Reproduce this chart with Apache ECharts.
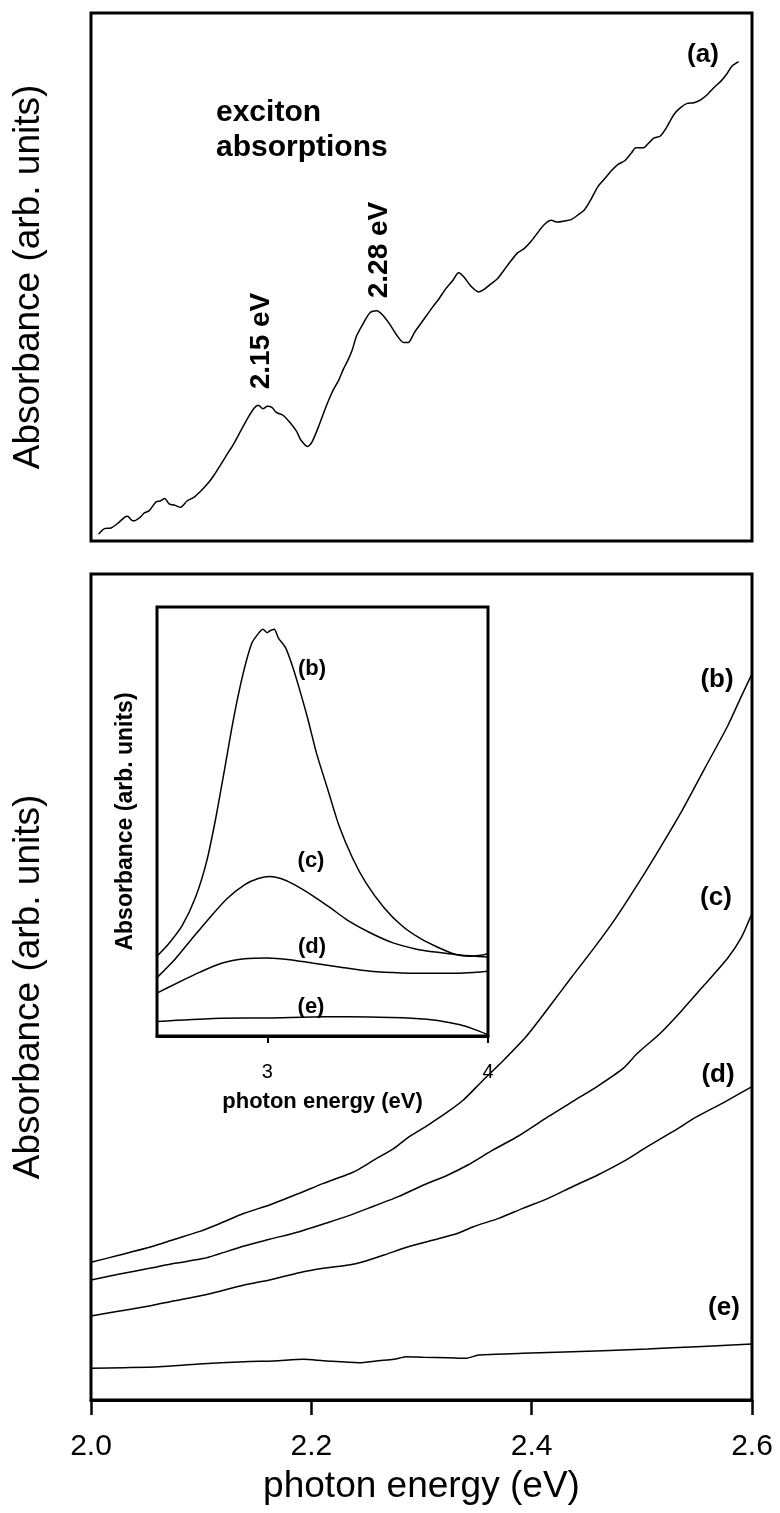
<!DOCTYPE html>
<html><head><meta charset="utf-8">
<script src="https://cdn.jsdelivr.net/npm/echarts@6/dist/echarts.min.js"></script>
<style>html,body{margin:0;padding:0;background:#fff}#c{width:780px;height:1513px}</style>
</head><body><div id="c"></div>
<script>
const FONT = '"Liberation Sans", Arial, Helvetica, sans-serif';

// ---- top panel (a) ----
const energyA = [2.0069,2.0122,2.0182,2.0243,2.0304,2.0332,2.0365,2.0393,2.0446,2.0486,
 2.0527,2.0588,2.0628,2.0669,2.0709,2.0770,2.0811,2.0872,2.0932,2.0993,
 2.1054,2.1115,2.1176,2.1236,2.1297,2.1358,2.1419,2.1480,2.1520,2.1561,
 2.1601,2.1642,2.1682,2.1743,2.1804,2.1865,2.1905,2.1966,2.2007,2.2068,
 2.2128,2.2189,2.2250,2.2291,2.2331,2.2372,2.2412,2.2473,2.2534,2.2595,
 2.2655,2.2716,2.2777,2.2838,2.2878,2.2939,2.3020,2.3101,2.3162,2.3223,
 2.3284,2.3336,2.3385,2.3446,2.3519,2.3568,2.3628,2.3689,2.3750,2.3811,
 2.3872,2.3932,2.3993,2.4054,2.4115,2.4176,2.4236,2.4297,2.4358,2.4419,
 2.4480,2.4540,2.4601,2.4662,2.4723,2.4784,2.4845,2.4905,2.4946,2.5015,
 2.5068,2.5108,2.5169,2.5230,2.5290,2.5351,2.5412,2.5473,2.5534,2.5595,
 2.5655,2.5716,2.5769,2.5817,2.5878];
const absA = [1.33,2.34,2.47,3.35,4.49,4.69,4.02,3.82,4.49,5.36,
 5.70,7.37,7.58,8.05,7.04,6.70,6.37,7.58,8.25,9.39,
 10.73,12.41,14.42,16.44,18.45,20.80,23.15,25.16,25.70,25.03,
 25.50,25.30,24.36,23.82,22.48,20.80,19.12,17.91,18.78,21.80,
 25.16,28.18,30.53,32.55,34.22,36.24,38.92,41.27,43.28,43.62,
 42.61,40.93,38.92,37.58,37.58,39.59,41.94,44.29,45.97,47.85,
 49.33,50.80,50.00,48.32,47.18,47.65,48.65,49.66,51.34,53.02,
 54.56,55.37,56.71,58.39,59.93,60.73,60.40,60.60,60.87,61.74,
 62.75,64.76,67.11,68.59,70.13,71.34,72.01,73.49,74.49,74.49,
 75.50,76.31,76.71,78.52,80.74,82.08,82.88,83.02,83.56,84.56,
 85.90,87.05,88.39,89.93,90.80];

// ---- bottom panel main curves ----
const energyB = [2.0,2.026,2.053,2.076,2.098,2.116,2.139,2.162,2.189,2.211,2.234,2.243,2.257,2.275,2.288,2.306,2.324,2.338,2.355,2.375,2.395,2.416,2.436,2.456,2.476,2.497,2.517,2.537,2.557,2.578,2.590,2.600];
const absB = [16.67,17.55,18.49,19.46,20.38,21.31,22.60,23.61,25.02,26.23,27.36,27.93,29.06,30.47,31.80,33.29,34.90,36.32,38.6,41.2,44.0,47.6,51.15,54.61,58.28,62.60,66.94,71.48,76.44,81.63,85.10,87.91];
const energyC = [2.0,2.026,2.053,2.076,2.103,2.116,2.139,2.162,2.189,2.211,2.234,2.257,2.279,2.302,2.324,2.342,2.365,2.388,2.415,2.437,2.460,2.483,2.496,2.517,2.537,2.557,2.578,2.590,2.600];
const absC = [14.53,15.25,15.94,16.55,17.15,17.68,18.64,19.45,20.38,21.31,22.32,23.49,24.62,26.03,27.24,28.45,30.27,31.96,34.30,36.12,38.01,40.15,41.97,44.44,47.26,50.29,53.52,55.91,58.93];
const energyD = [2.0,2.026,2.053,2.076,2.107,2.139,2.162,2.189,2.211,2.234,2.247,2.266,2.288,2.311,2.333,2.347,2.370,2.392,2.415,2.437,2.460,2.483,2.505,2.528,2.550,2.573,2.600];
const absD = [10.17,10.77,11.38,12.02,12.83,13.92,14.53,15.41,15.94,16.34,16.74,17.55,18.56,19.37,20.18,20.98,21.99,23.2,24.41,25.82,27.24,28.85,30.67,32.48,34.3,35.92,37.93];
const energyE = [2.0,2.030,2.062,2.098,2.139,2.166,2.193,2.211,2.243,2.261,2.275,2.286,2.302,2.324,2.340,2.352,2.392,2.437,2.505,2.550,2.600];
const absE = [3.83,3.91,4.03,4.36,4.64,4.72,4.92,4.76,4.52,4.76,4.92,5.25,5.17,5.13,5.04,5.45,5.65,5.85,6.17,6.46,6.78];

// ---- inset curves ----
const insetEnergyB = [2.5,2.553,2.614,2.675,2.725,2.766,2.807,2.847,2.888,2.929,2.959,2.980,3.000,3.010,3.031,3.051,3.082,3.112,3.142,3.183,3.224,3.275,3.325,3.386,3.447,3.529,3.610,3.691,3.772,3.854,3.915,3.976,4.0];
const insetAbsB = [18.6,21.5,25.7,32.4,40.7,50.7,62.4,74.0,84.0,91.5,93.8,94.8,94.0,94.4,94.8,92.7,90.6,86.5,81.5,74.0,65.7,57.3,49.0,41.5,35.7,29.9,25.7,22.8,20.7,19.0,18.6,18.9,19.2];
const insetEnergyC = [2.5,2.573,2.654,2.736,2.817,2.898,2.959,3.010,3.061,3.122,3.203,3.285,3.366,3.468,3.570,3.671,3.772,3.874,4.0];
const insetAbsC = [13.6,17.4,22.4,27.4,32.0,35.3,36.7,37.2,36.7,35.3,32.8,29.9,26.9,24.0,21.7,20.3,19.5,18.9,18.4];
const insetEnergyD = [2.5,2.593,2.695,2.796,2.898,3.0,3.102,3.203,3.325,3.468,3.610,3.772,3.894,4.0];
const insetAbsD = [10.0,12.4,14.9,17.0,18.0,18.2,17.8,17.0,16.1,15.1,14.7,14.6,14.7,15.1];
const insetEnergyE = [2.5,2.756,3.0,3.264,3.468,3.671,3.772,3.874,3.935,4.0];
const insetAbsE = [3.4,4.1,4.2,4.5,4.4,4.1,3.6,2.6,1.6,0.3];

// ---- tick labels ----
const mainTicks = [2.0, 2.2, 2.4, 2.6];
const insetTicks = [3, 4];

function pairs(xs, ys) { return xs.map((x, i) => [x, ys[i]]); }

const chart = echarts.init(document.getElementById('c'));
const ls = { color: '#000', width: 1.5 };
function line(name, xi, xs, ys) {
  return { name, type: 'line', xAxisIndex: xi, yAxisIndex: xi, data: pairs(xs, ys),
    showSymbol: false, symbol: 'none', smooth: 0.25, lineStyle: ls, z: 3, silent: true };
}
const hiddenY = (gi, name, fs, bold, gap) => ({
  gridIndex: gi, type: 'value', min: 0, max: 100,
  axisLine: { show: false }, axisTick: { show: false }, axisLabel: { show: false }, splitLine: { show: false },
  name, nameLocation: 'middle', nameGap: gap,
  nameTextStyle: { fontSize: fs, fontWeight: bold ? 'bold' : 'normal', color: '#000', fontFamily: FONT }
});
function txt(x, y, s, size, rot, align) {
  return { type: 'text', x, y, rotation: rot || 0, z: 10,
    style: { text: s, fontSize: size, fontWeight: 'bold', fontFamily: FONT, fill: '#000',
      align: align || 'center', verticalAlign: 'middle' } };
}

const option = {
  animation: false,
  backgroundColor: '#fff',
  grid: [
    { left: 91, top: 13, width: 661, height: 528, show: true, borderColor: '#000', borderWidth: 3 },
    { left: 91, top: 574, width: 661, height: 826, show: true, borderColor: '#000', borderWidth: 3 },
    { left: 157, top: 607, width: 331, height: 429, show: true, borderColor: '#000', borderWidth: 3 }
  ],
  xAxis: [
    { gridIndex: 0, type: 'value', min: 2.0, max: 2.6, axisLine: { show: false }, axisTick: { show: false },
      axisLabel: { show: false }, splitLine: { show: false } },
    { gridIndex: 1, type: 'value', min: 2.0, max: 2.6, interval: 0.2,
      axisLine: { show: true, lineStyle: { color: '#000', width: 3 } },
      axisTick: { show: true, inside: false, length: 15, lineStyle: { color: '#000', width: 2.5 } },
      axisLabel: { show: true, fontSize: 30, color: '#000', fontFamily: FONT, margin: 32,
        showMinLabel: true, showMaxLabel: true,
        formatter: v => { const m = mainTicks.find(t => Math.abs(t - v) < 1e-6); return m === undefined ? '' : m.toFixed(1); } },
      splitLine: { show: false },
      name: 'photon energy (eV)', nameLocation: 'middle', nameGap: 68,
      nameTextStyle: { fontSize: 37, color: '#000', fontFamily: FONT } },
    { gridIndex: 2, type: 'value', min: 2.5, max: 4.0, interval: 0.5,
      axisLine: { show: true, lineStyle: { color: '#000', width: 3 } },
      axisTick: { show: true, inside: false, length: 7, customValues: insetTicks, lineStyle: { color: '#000', width: 2 } },
      axisLabel: { show: true, fontSize: 20, color: '#000', fontFamily: FONT, margin: 26, customValues: insetTicks,
        formatter: v => (insetTicks.some(t => Math.abs(t - v) < 1e-6) ? String(Math.round(v)) : '') },
      splitLine: { show: false },
      name: 'photon energy (eV)', nameLocation: 'middle', nameGap: 55,
      nameTextStyle: { fontSize: 22, fontWeight: 'bold', color: '#000', fontFamily: FONT } }
  ],
  yAxis: [
    hiddenY(0, 'Absorbance (arb. units)', 37, false, 44),
    hiddenY(1, 'Absorbance (arb. units)', 37, false, 44),
    hiddenY(2, 'Absorbance (arb. units)', 23, true, 20)
  ],
  series: [
    line('(a)', 0, energyA, absA),
    line('(b)', 1, energyB, absB),
    line('(c)', 1, energyC, absC),
    line('(d)', 1, energyD, absD),
    line('(e)', 1, energyE, absE),
    line('inset (b)', 2, insetEnergyB, insetAbsB),
    line('inset (c)', 2, insetEnergyC, insetAbsC),
    line('inset (d)', 2, insetEnergyD, insetAbsD),
    line('inset (e)', 2, insetEnergyE, insetAbsE)
  ],
  graphic: [
    txt(703, 55, '(a)', 26),
    txt(216, 113, 'exciton', 30, 0, 'left'),
    txt(216, 148, 'absorptions', 30, 0, 'left'),
    txt(261, 341, '2.15 eV', 28, Math.PI / 2),
    txt(379, 250, '2.28 eV', 28, Math.PI / 2),
    txt(717, 680, '(b)', 26),
    txt(716, 898, '(c)', 26),
    txt(718, 1075, '(d)', 26),
    txt(724, 1308, '(e)', 26),
    txt(312, 669, '(b)', 22),
    txt(311, 861, '(c)', 22),
    txt(312, 947, '(d)', 22),
    txt(311, 1007, '(e)', 22)
  ]
};
chart.setOption(option);
</script>
</body></html>
